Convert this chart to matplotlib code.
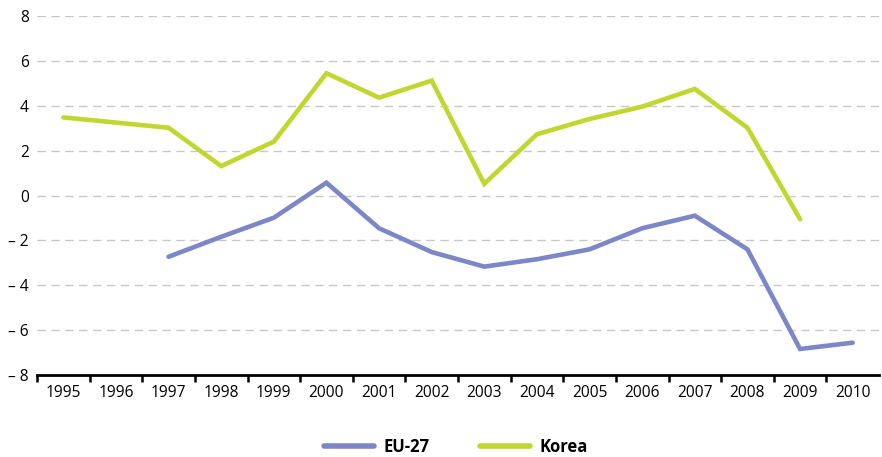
import matplotlib
matplotlib.use("Agg")
import matplotlib.pyplot as plt
import numpy as np

years = ["1995", "1996", "1997", "1998", "1999", "2000", "2001", "2002",
         "2003", "2004", "2005", "2006", "2007", "2008", "2009", "2010"]
eu27 = [None, None, -2.73, -1.84, -0.99, 0.57, -1.46, -2.52, -3.17,
        -2.84, -2.40, -1.46, -0.90, -2.40, -6.84, -6.56]
korea = [3.48, 3.25, 3.02, 1.31, 2.40, 5.45, 4.36, 5.12, 0.52,
         2.73, 3.41, 3.96, 4.75, 3.02, -1.06, None]
yticks = [-8, -6, -4, -2, 0, 2, 4, 6, 8]

plt.rcParams['font.family'] = ['Open Sans', 'DejaVu Sans']

fig = plt.figure(figsize=(8.82, 4.57), dpi=100)
ax = fig.add_axes([37/882, 1-375/457, (879-37)/882, (375-16)/457])

x = np.arange(len(years))
eu_arr = np.array([np.nan if v is None else v for v in eu27], dtype=float)
ko_arr = np.array([np.nan if v is None else v for v in korea], dtype=float)

for yv in yticks[1:]:
    ax.axhline(yv, color="#c8c8c8", lw=1.0, dashes=(6, 4), zorder=1)

ax.plot(x, eu_arr, color="#7b87c6", lw=3.3, solid_capstyle="round",
        solid_joinstyle="miter", label="EU-27", zorder=3)
ax.plot(x, ko_arr, color="#c0d72f", lw=3.3, solid_capstyle="round",
        solid_joinstyle="miter", label="Korea", zorder=3)

ax.set_xlim(-0.5, len(years) - 0.5)
ax.set_ylim(-8, 8)
ax.set_yticks(yticks)
ax.set_yticklabels([("\u2013 " + str(abs(v))) if v < 0 else str(v) for v in yticks],
                   fontsize=11.2)
ax.tick_params(axis="y", length=0, pad=6)

ax.set_xticks(x)
ax.set_xticklabels(years, fontsize=11.2)
ax.tick_params(axis="x", which="major", length=0, pad=7)
ax.set_xticks(np.arange(-0.5, len(years) - 0.5, 1), minor=True)
ax.tick_params(axis="x", which="minor", length=5, width=1.8, color="black", direction="out")

for s in ["top", "right", "left"]:
    ax.spines[s].set_visible(False)
ax.spines["bottom"].set_linewidth(2.0)
ax.spines["bottom"].set_color("black")
ax.spines["bottom"].set_zorder(4)

leg = fig.legend(loc="center", bbox_to_anchor=(456/882, 1-447/457), ncol=2,
                 frameon=False, handlelength=3.0, columnspacing=3.0,
                 handletextpad=0.6, prop={"weight": "bold", "size": 12})
for h in leg.legend_handles:
    h.set_linewidth(4.0)

fig.savefig("out.png", dpi=100)
